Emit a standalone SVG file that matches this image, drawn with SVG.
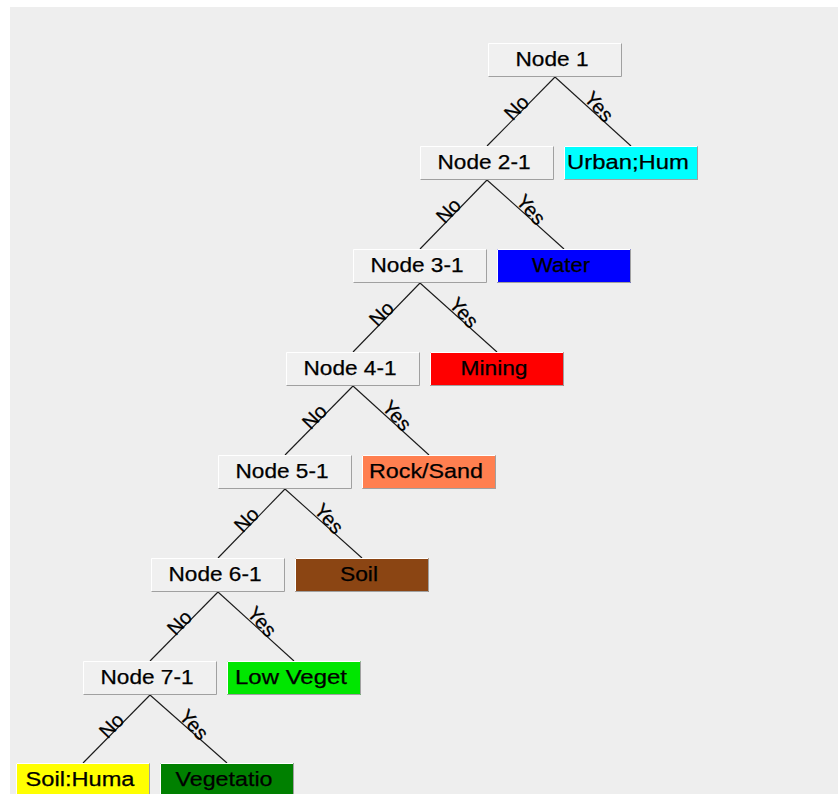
<svg xmlns="http://www.w3.org/2000/svg" width="838" height="794" viewBox="0 0 838 794">
  <defs>
    <style>
      .bg { fill: #eeeeee; }
      .box { stroke: none; }
      .node { fill: #f0f0f0; }
      .hi { stroke: #ffffff; stroke-width: 1; fill: none; }
      .lo { stroke: #a0a0a0; stroke-width: 1; fill: none; }
      .txt { font-family: "Liberation Sans", Arial, Helvetica, sans-serif; font-size: 20.5px; fill: #000000; stroke: #000000; stroke-width: 0.25; text-anchor: middle; }
      .edge { stroke: #1a1a1a; stroke-width: 1.1; fill: none; }
      .lab { font-family: "Liberation Sans", Arial, Helvetica, sans-serif; font-size: 20px; fill: #000000; stroke: #000000; stroke-width: 0.25; text-anchor: middle; }
    </style>
    <!-- bevelled 134x34 frame drawn over each box -->
    <g id="bevel">
      <path class="hi" d="M0.5,33.5 V0.5 H133.5"/>
      <path class="lo" d="M0.5,33.5 H133.5 V0.5"/>
    </g>
  </defs>

  <rect x="0" y="0" width="838" height="794" fill="#ffffff"/>
  <rect class="bg" x="10" y="7" width="828" height="787"/>

  <!-- connectors with their branch labels -->
  <g id="connectors">
    <line class="edge" x1="555" y1="77" x2="487" y2="146"/>
    <line class="edge" x1="555" y1="77" x2="631" y2="146"/>
    <line class="edge" x1="487" y1="180" x2="420" y2="249"/>
    <line class="edge" x1="487" y1="180" x2="564" y2="249"/>
    <line class="edge" x1="420" y1="283" x2="353" y2="352"/>
    <line class="edge" x1="420" y1="283" x2="497" y2="352"/>
    <line class="edge" x1="353" y1="386" x2="285" y2="455"/>
    <line class="edge" x1="353" y1="386" x2="429" y2="455"/>
    <line class="edge" x1="285" y1="489" x2="218" y2="558"/>
    <line class="edge" x1="285" y1="489" x2="362" y2="558"/>
    <line class="edge" x1="218" y1="592" x2="150" y2="661"/>
    <line class="edge" x1="218" y1="592" x2="294" y2="661"/>
    <line class="edge" x1="150" y1="695" x2="83" y2="763"/>
    <line class="edge" x1="150" y1="695" x2="227" y2="763"/>

    <text class="lab" transform="translate(516.3,107.5) rotate(-46)" y="7">No</text>
    <text class="lab" transform="translate(599,106.5) rotate(48)" y="7">Yes</text>
    <text class="lab" transform="translate(448.3,210.5) rotate(-46)" y="7">No</text>
    <text class="lab" transform="translate(531,209.5) rotate(48)" y="7">Yes</text>
    <text class="lab" transform="translate(381.3,313.5) rotate(-46)" y="7">No</text>
    <text class="lab" transform="translate(464,312.5) rotate(48)" y="7">Yes</text>
    <text class="lab" transform="translate(314.3,416.5) rotate(-46)" y="7">No</text>
    <text class="lab" transform="translate(397,415.5) rotate(48)" y="7">Yes</text>
    <text class="lab" transform="translate(246.3,519.5) rotate(-46)" y="7">No</text>
    <text class="lab" transform="translate(329,518.5) rotate(48)" y="7">Yes</text>
    <text class="lab" transform="translate(179.3,622.5) rotate(-46)" y="7">No</text>
    <text class="lab" transform="translate(262,621.5) rotate(48)" y="7">Yes</text>
    <text class="lab" transform="translate(111.3,725.5) rotate(-46)" y="7">No</text>
    <text class="lab" transform="translate(194,724.5) rotate(48)" y="7">Yes</text>
  </g>

  <!-- decision nodes -->
  <g id="node-1" transform="translate(488,43)">
    <rect class="box node" width="134" height="34"/>
    <use href="#bevel"/>
    <text class="txt" x="64" y="23" textLength="73" lengthAdjust="spacingAndGlyphs">Node 1</text>
  </g>
  <g id="node-2-1" transform="translate(420,146)">
    <rect class="box node" width="134" height="34"/>
    <use href="#bevel"/>
    <text class="txt" x="64" y="23" textLength="93" lengthAdjust="spacingAndGlyphs">Node 2-1</text>
  </g>
  <g id="node-3-1" transform="translate(353,249)">
    <rect class="box node" width="134" height="34"/>
    <use href="#bevel"/>
    <text class="txt" x="64" y="23" textLength="93" lengthAdjust="spacingAndGlyphs">Node 3-1</text>
  </g>
  <g id="node-4-1" transform="translate(286,352)">
    <rect class="box node" width="134" height="34"/>
    <use href="#bevel"/>
    <text class="txt" x="64" y="23" textLength="93" lengthAdjust="spacingAndGlyphs">Node 4-1</text>
  </g>
  <g id="node-5-1" transform="translate(218,455)">
    <rect class="box node" width="134" height="34"/>
    <use href="#bevel"/>
    <text class="txt" x="64" y="23" textLength="93" lengthAdjust="spacingAndGlyphs">Node 5-1</text>
  </g>
  <g id="node-6-1" transform="translate(151,558)">
    <rect class="box node" width="134" height="34"/>
    <use href="#bevel"/>
    <text class="txt" x="64" y="23" textLength="93" lengthAdjust="spacingAndGlyphs">Node 6-1</text>
  </g>
  <g id="node-7-1" transform="translate(83,661)">
    <rect class="box node" width="134" height="34"/>
    <use href="#bevel"/>
    <text class="txt" x="64" y="23" textLength="93" lengthAdjust="spacingAndGlyphs">Node 7-1</text>
  </g>

  <!-- class leaves -->
  <g id="leaf-urban" transform="translate(564,146)">
    <rect class="box" width="134" height="34" fill="#00ffff"/>
    <use href="#bevel"/>
    <text class="txt" x="64" y="23" textLength="122" lengthAdjust="spacingAndGlyphs">Urban;Hum</text>
  </g>
  <g id="leaf-water" transform="translate(497,249)">
    <rect class="box" width="134" height="34" fill="#0000ff"/>
    <use href="#bevel"/>
    <text class="txt" x="64" y="23" textLength="58" lengthAdjust="spacingAndGlyphs">Water</text>
  </g>
  <g id="leaf-mining" transform="translate(430,352)">
    <rect class="box" width="134" height="34" fill="#ff0000"/>
    <use href="#bevel"/>
    <text class="txt" x="64" y="23" textLength="67" lengthAdjust="spacingAndGlyphs">Mining</text>
  </g>
  <g id="leaf-rock" transform="translate(362,455)">
    <rect class="box" width="134" height="34" fill="#ff7f50"/>
    <use href="#bevel"/>
    <text class="txt" x="64" y="23" textLength="114" lengthAdjust="spacingAndGlyphs">Rock/Sand</text>
  </g>
  <g id="leaf-soil" transform="translate(295,558)">
    <rect class="box" width="134" height="34" fill="#8b4513"/>
    <use href="#bevel"/>
    <text class="txt" x="64" y="23" textLength="38" lengthAdjust="spacingAndGlyphs">Soil</text>
  </g>
  <g id="leaf-lowveg" transform="translate(227,661)">
    <rect class="box" width="134" height="34" fill="#00e600"/>
    <use href="#bevel"/>
    <text class="txt" x="64" y="23" textLength="112" lengthAdjust="spacingAndGlyphs">Low Veget</text>
  </g>
  <g id="leaf-soilhuman" transform="translate(16,763)">
    <rect class="box" width="134" height="34" fill="#ffff00"/>
    <use href="#bevel"/>
    <text class="txt" x="64" y="23" textLength="109" lengthAdjust="spacingAndGlyphs">Soil:Huma</text>
  </g>
  <g id="leaf-veg" transform="translate(160,763)">
    <rect class="box" width="134" height="34" fill="#008000"/>
    <use href="#bevel"/>
    <text class="txt" x="64" y="23" textLength="97" lengthAdjust="spacingAndGlyphs">Vegetatio</text>
  </g>
</svg>
